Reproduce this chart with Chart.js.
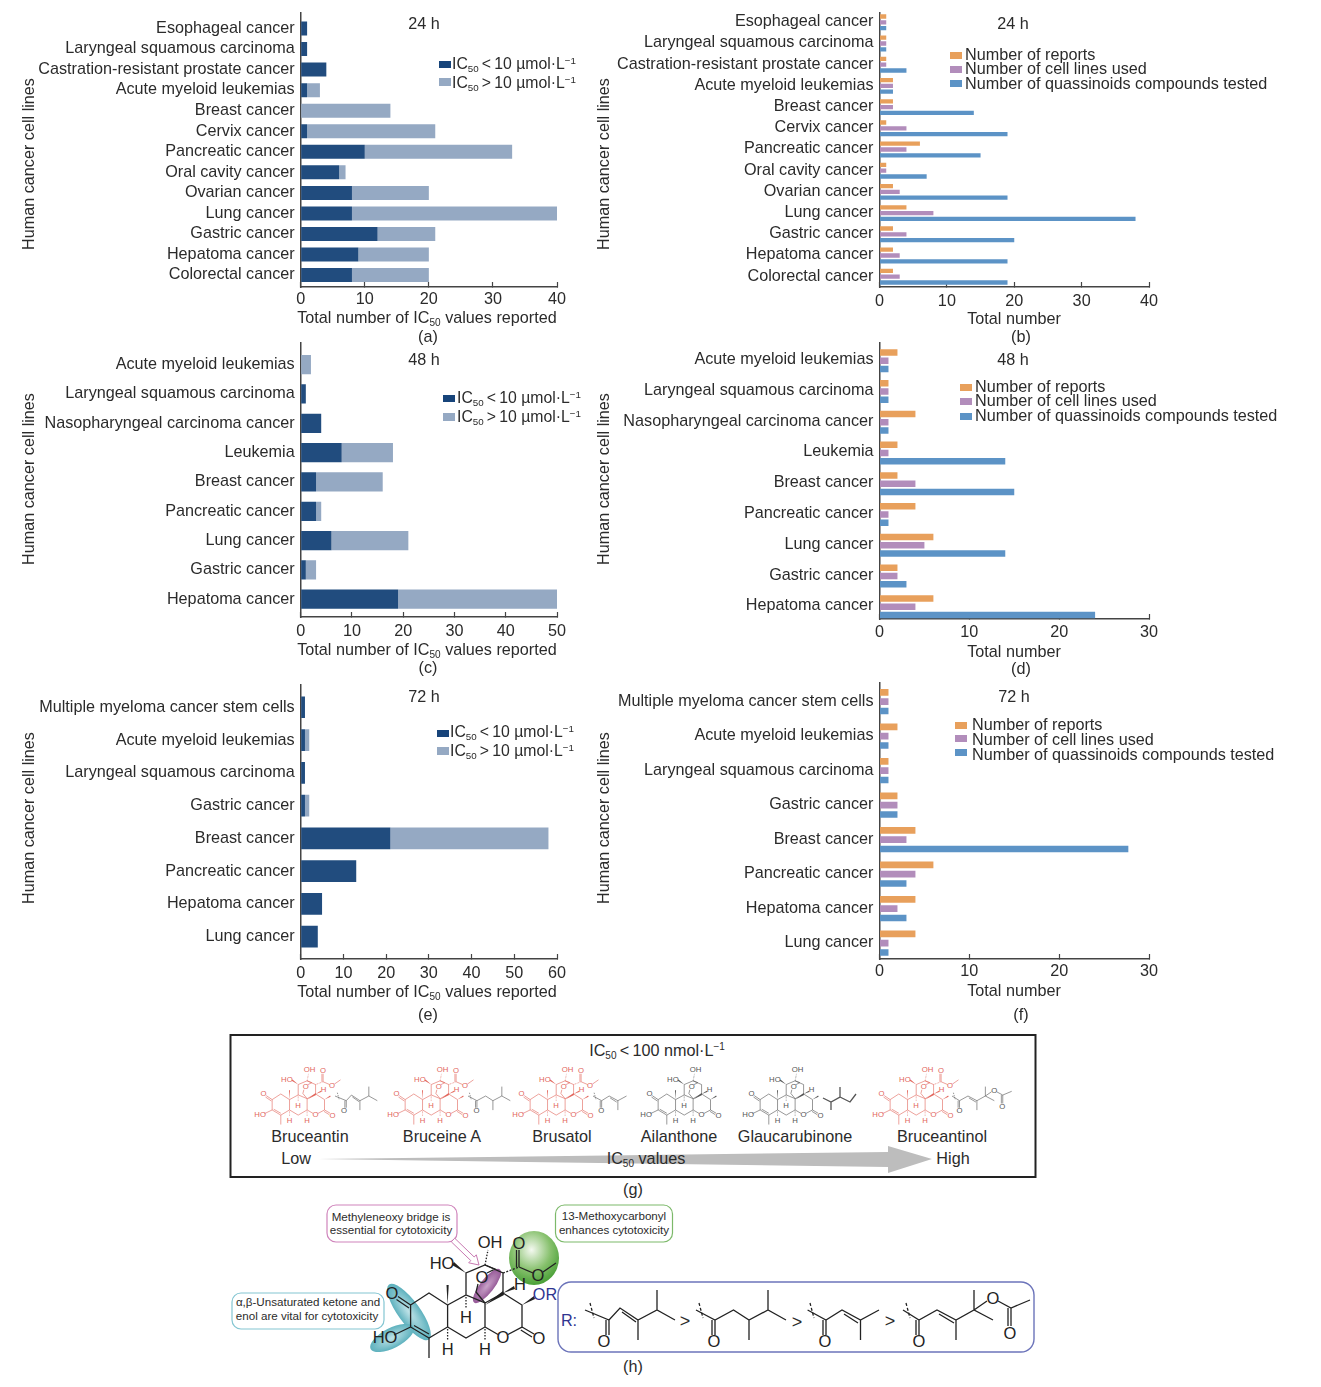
<!DOCTYPE html>
<html><head><meta charset="utf-8">
<script src="https://cdn.jsdelivr.net/npm/chart.js@4"></script>
<style>
html,body{margin:0;padding:0;background:#fff;overflow:hidden}
#page{position:relative;width:1321px;height:1387px;font-family:"Liberation Sans",Arial,sans-serif;color:#2b2b2b}
canvas{position:absolute}
svg{position:absolute;left:0;top:0}
.t{position:absolute;white-space:nowrap;line-height:1;transform:translate(-50%,-50%)}
.l{position:absolute;white-space:nowrap;line-height:1;transform:translateY(-50%)}
.sw{position:absolute}
sub{font-size:.62em;vertical-align:-.3em;line-height:0}
sup{font-size:.62em;vertical-align:.55em;line-height:0}
.m path{fill:none;stroke:currentColor;stroke-width:1.3}
.m polygon{fill:currentColor;stroke:none}
.m text{fill:currentColor;stroke:none;font-family:"Liberation Sans",Arial,sans-serif;font-size:16.5px;text-anchor:middle;dominant-baseline:central}
</style></head><body><div id="page">
<svg width="1321" height="1387" viewBox="0 0 1321 1387">
<defs>
<radialGradient id="gg" cx=".45" cy=".35" r=".7"><stop offset="0" stop-color="#f4f9f0"/><stop offset=".55" stop-color="#86c06c"/><stop offset="1" stop-color="#3f9a2e"/></radialGradient>
<radialGradient id="pg" cx=".5" cy=".5" r=".6"><stop offset="0" stop-color="#c9a3c9"/><stop offset="1" stop-color="#8c4b8e"/></radialGradient>
<radialGradient id="tg" cx=".5" cy=".5" r=".6"><stop offset="0" stop-color="#bfe3e8"/><stop offset="1" stop-color="#4aa7b5"/></radialGradient>
<g id="base" class="m">
<path d="M410.6,1305 L429,1293 L447.6,1305 L447.6,1327 L429,1338 L410.6,1327 Z M414,1325.5 L429,1334 M410.6,1305 L398,1296.5 M409,1308 L396.5,1299.5 M410.6,1327 L394,1335 M429,1338 L429,1358"/>
<polygon points="447.6,1305 446.5,1285 448.7,1285"/>
<path d="M447.6,1305 L466,1295 L485,1303 L485,1327 L466,1338 L447.6,1327 M466,1295 L466,1273 L485,1265 L503,1273 L503,1293 L485,1303 M485,1327 L498,1334.5 M508,1334.5 L522,1327 L522,1305 L503,1293 M522,1327 L534,1334 M520.8,1330 L532,1337"/>
<path d="M466,1297 L466,1309 M447.6,1329 L447.6,1341 M485,1329 L485,1341" stroke-dasharray="1.5 1.5"/>
<path d="M485,1303 L476,1292 L478,1284 M487,1273 L495,1269 L485,1265"/>
<polygon points="485,1305 503,1291 504,1295"/>
<polygon points="522,1305 534,1296 535,1299"/>
<polygon points="503,1293 514,1286 515,1289"/>
<polygon points="466,1273 454,1262 452,1265"/>
<path d="M485,1265 L488,1250" stroke-dasharray="1.5 1.5"/>
<text x="392" y="1293">O</text><text x="385" y="1337">HO</text>
<text x="466" y="1317">H</text><text x="447.6" y="1349">H</text><text x="485" y="1349">H</text>
<text x="503" y="1337">O</text><text x="539" y="1338">O</text><text x="482" y="1277">O</text>
<text x="520" y="1284">H</text><text x="490" y="1242">OH</text><text x="442" y="1263">HO</text>
</g>
<g id="ester" class="m">
<path d="M503,1273 L519,1267" stroke-dasharray="2 1.5"/>
<path d="M519,1267 L519,1250 M516.5,1267 L516.5,1250 M519,1267 L533,1273 M543,1272 L556,1263"/>
<text x="519" y="1243">O</text><text x="538" y="1275">O</text>
</g>
<g id="core"><use href="#base"/><use href="#ester"/></g>
<g id="r1" class="m"><path d="M585,1310 L609,1320 L620,1308 L638,1320 L657,1310 L675,1320 M657,1310 L657,1290 M638,1320 L638,1340 M622,1312 L636,1322 M609,1320 L609,1335 M606,1320 L606,1335"/><path d="M590,1303 L594,1318" stroke-dasharray="3 2"/><text x="604" y="1341">O</text></g>
<g id="r2" class="m"><path d="M696,1310 L715,1320 L733.5,1310 L749,1320 L768,1310 L786,1320 M768,1310 L768,1290 M749,1320 L749,1340 M715,1320 L715,1335 M712,1320 L712,1335"/><path d="M699,1303 L703,1318" stroke-dasharray="3 2"/><text x="714" y="1341">O</text></g>
<g id="r3" class="m"><path d="M807.6,1310 L826,1320 L842,1310 L860.5,1320 L879,1310 M860.5,1320 L860.5,1340 M844,1314 L858,1323 M826,1320 L826,1335 M823,1320 L823,1335"/><path d="M810,1303 L814,1318" stroke-dasharray="3 2"/><text x="825" y="1341">O</text></g>
<g id="r4" class="m"><path d="M903,1310 L919,1320 L937,1310 L956,1320 L974,1310 L993,1320 M974,1310 L974,1290 M974,1310 L987,1301 M998,1301 L1011,1308 L1030,1300 M1011,1308 L1011,1326 M1008,1308 L1008,1326 M956,1320 L956,1340 M939,1314 L954,1323 M919,1320 L919,1335 M916,1320 L916,1335"/><path d="M906,1303 L910,1318" stroke-dasharray="3 2"/><text x="919" y="1341">O</text><text x="993" y="1298">O</text><text x="1010" y="1333">O</text></g>
</defs>

<!-- panel g -->
<rect x="230.5" y="1035" width="805" height="142" fill="none" stroke="#222" stroke-width="2"/>
<polygon points="318,1159 888,1152 888,1146 932,1159 888,1173 888,1167" fill="#bdbdbd"/>
<use href="#core" transform="translate(262,1070) scale(.47) translate(-389,-1242)" style="color:#e2665c"/>
<use href="#r1" transform="translate(335,1096) scale(.47) translate(-585,-1310)" style="color:#555"/>
<use href="#core" transform="translate(395,1070) scale(.47) translate(-389,-1242)" style="color:#e2665c"/>
<use href="#r2" transform="translate(468,1096) scale(.47) translate(-696,-1310)" style="color:#555"/>
<use href="#core" transform="translate(520,1070) scale(.47) translate(-389,-1242)" style="color:#e2665c"/>
<use href="#r3" transform="translate(593,1096) scale(.47) translate(-807.6,-1310)" style="color:#555"/>
<use href="#base" transform="translate(648,1070) scale(.47) translate(-389,-1242)" style="color:#555"/>
<use href="#base" transform="translate(750,1070) scale(.47) translate(-389,-1242)" style="color:#555"/>
<g class="m" style="color:#555"><path d="M823,1098 L831,1102 L840,1097 L840,1087 M831,1102 L831,1110 M840,1097 L850,1102 L856,1094"/></g>
<use href="#core" transform="translate(880,1070) scale(.47) translate(-389,-1242)" style="color:#e2665c"/>
<use href="#r4" transform="translate(952,1096) scale(.47) translate(-903,-1310)" style="color:#555"/>

<!-- panel h -->
<ellipse cx="409" cy="1312" rx="34" ry="11" transform="rotate(54 409 1312)" fill="url(#tg)"/>
<ellipse cx="392" cy="1338" rx="24" ry="10" transform="rotate(-27 392 1338)" fill="url(#tg)"/>
<ellipse cx="534" cy="1258" rx="25" ry="27" fill="url(#gg)"/>
<ellipse cx="487" cy="1286" rx="21" ry="7" transform="rotate(-52 487 1286)" fill="url(#pg)"/>
<use href="#core" style="color:#222"/>
<rect x="327" y="1205" width="130" height="37" rx="9" fill="#fff" stroke="#cf84bb" stroke-width="1.2"/>
<rect x="555.5" y="1205" width="117" height="37" rx="9" fill="#fff" stroke="#7cb96a" stroke-width="1.2"/>
<rect x="232" y="1293" width="152" height="36" rx="9" fill="#fff" stroke="#84c6d2" stroke-width="1.2"/>
<rect x="558" y="1282" width="476" height="70" rx="13" fill="none" stroke="#6c74ba" stroke-width="1.4"/>
<polygon points="451.3,1241.8 470.8,1260.6 468.7,1262.8 479,1265 476.3,1254.8 474.2,1257 454.7,1238.2" fill="#fff" stroke="#c879b2" stroke-width="1"/>
<use href="#r1" style="color:#222"/><use href="#r2" style="color:#222"/><use href="#r3" style="color:#222"/><use href="#r4" style="color:#222"/>
</svg>
<div id="chartLayer"></div>
<div id="textLayer"></div>
</div>
<script>
// ---- categories ----
const cats24a = ["Esophageal cancer","Laryngeal squamous carcinoma","Castration-resistant prostate cancer","Acute myeloid leukemias","Breast cancer","Cervix cancer","Pancreatic cancer","Oral cavity cancer","Ovarian cancer","Lung cancer","Gastric cancer","Hepatoma cancer","Colorectal cancer"];
const cats48 = ["Acute myeloid leukemias","Laryngeal squamous carcinoma","Nasopharyngeal carcinoma cancer","Leukemia","Breast cancer","Pancreatic cancer","Lung cancer","Gastric cancer","Hepatoma cancer"];
const cats72 = ["Multiple myeloma cancer stem cells","Acute myeloid leukemias","Laryngeal squamous carcinoma","Gastric cancer","Breast cancer","Pancreatic cancer","Hepatoma cancer","Lung cancer"];
// ---- panel (a) ----
const a_below = [1,1,4,1,0,1,10,6,8,8,12,9,8];
const a_above = [0,0,0,2,14,20,23,1,12,32,9,11,12];
// ---- panel (b) ----
const b_reports = [1,1,1,2,2,1,6,1,2,4,2,2,2];
const b_lines = [1,1,1,2,2,4,4,1,3,8,4,3,3];
const b_compounds = [1,1,4,2,14,19,15,7,19,38,20,19,19];
// ---- panel (c) ----
const c_below = [0,1,4,8,3,3,6,1,19];
const c_above = [2,0,0,10,13,1,15,2,31];
// ---- panel (d) ----
const d_reports = [2,1,4,2,2,4,6,2,6];
const d_lines = [1,1,1,1,4,1,5,2,4];
const d_compounds = [1,1,1,14,15,1,14,3,24];
// ---- panel (e) ----
const e_below = [1,1,1,1,21,13,5,4];
const e_above = [0,1,0,1,37,0,0,0];
// ---- panel (f) ----
const f_reports = [1,2,1,2,4,6,4,4];
const f_lines = [1,1,1,2,3,4,2,1];
const f_compounds = [1,1,1,2,27.7,3,3,1];
// ---- text ----
const seriesLow = "IC50 < 10 µmol·L−1", seriesHigh = "IC50 > 10 µmol·L−1";
const seriesNames = ["Number of reports","Number of cell lines used","Number of quassinoids compounds tested"];
const compounds = ["Bruceantin","Bruceine A","Brusatol","Ailanthone","Glaucarubinone","Bruceantinol"];

const FS = 16.2;
const DARK="#214c7e", LIGHT="#95a9c3", ORANGE="#e8a05c", PURPLE="#b28dbb", BLUE="#5c93c6";
const FONT='"Liberation Sans", Arial, sans-serif', TXT="#2b2b2b", AX="#444";

function panel(o){
  const PADT=20, PADR=30, AW=o.x0-4, BH=40;
  const cv=document.createElement('canvas');
  const W=AW+(o.x1-o.x0)+PADR, H=PADT+(o.bottom-o.top)+BH;
  cv.width=W; cv.height=H;
  cv.style.left=(o.x0-AW)+'px'; cv.style.top=(o.top-PADT)+'px';
  document.getElementById('chartLayer').appendChild(cv);
  const stacked=o.series.length===2;
  const cp=stacked?1:3*o.gap/o.step, bp=stacked?o.th/o.step:o.th/o.gap;
  new Chart(cv,{type:'bar',data:{labels:o.labels,datasets:o.series.map(s=>({label:s.label,data:s.data,backgroundColor:s.color,borderWidth:0,categoryPercentage:cp,barPercentage:bp}))},
  options:{indexAxis:'y',responsive:false,animation:false,events:[],
    layout:{padding:{top:PADT,right:PADR,left:0,bottom:0}},
    plugins:{legend:{display:false},tooltip:{enabled:false},title:{display:false}},
    scales:{
      x:{type:'linear',min:0,max:o.max,stacked,position:'bottom',
        grid:{display:true,drawOnChartArea:false,drawTicks:true,tickLength:-5,tickColor:AX,tickWidth:1.2},
        border:{display:true,color:AX,width:1.5},
        ticks:{stepSize:10,padding:o.tickPad,color:TXT,font:{family:FONT,size:FS},maxRotation:0},
        afterFit:s=>{s.height=BH}},
      y:{type:'category',stacked,position:'left',
        grid:{display:false,drawTicks:false},
        border:{display:true,color:AX,width:1.5},
        ticks:{padding:o.labelPad,autoSkip:false,color:TXT,font:{family:FONT,size:FS},labelOffset:o.labelOff},
        afterBuildTicks:s=>{s._startValue=-(o.c0-o.top)/o.step; s._valueRange=(o.bottom-o.top)/o.step;},
        afterFit:s=>{s.width=AW}}
    }}});
}
const low={label:seriesLow,color:DARK}, high={label:seriesHigh,color:LIGHT};
function ser2(a,b){return [{...low,data:a},{...high,data:b}]}
function ser3(a,b,c){return [{label:seriesNames[0],color:ORANGE,data:a},{label:seriesNames[1],color:PURPLE,data:b},{label:seriesNames[2],color:BLUE,data:c}]}

panel({labels:cats24a,series:ser2(a_below,a_above),max:40,x0:300.7,x1:557.5,top:13,bottom:287,c0:28.5,step:20.55,th:14,tickPad:8,labelPad:6,labelOff:-0.2});
panel({labels:cats24a,series:ser3(b_reports,b_lines,b_compounds),max:40,x0:879.5,x1:1149,top:13,bottom:287,c0:22.3,step:21.2,gap:5.8,th:4.3,tickPad:10,labelPad:6,labelOff:-0.5});
panel({labels:cats48,series:ser2(c_below,c_above),max:50,x0:300.7,x1:557.5,top:343,bottom:617.7,c0:364.7,step:29.4,th:19.3,tickPad:10,labelPad:6,labelOff:0});
panel({labels:cats48,series:ser3(d_reports,d_lines,d_compounds),max:30,x0:879.5,x1:1149,top:343,bottom:619.3,c0:360.7,step:30.8,gap:8.3,th:6.5,tickPad:9,labelPad:6,labelOff:-1});
panel({labels:cats72,series:ser2(e_below,e_above),max:60,x0:300.7,x1:557.5,top:685,bottom:959.3,c0:707.3,step:32.8,th:21.7,tickPad:10,labelPad:6,labelOff:0});
panel({labels:cats72,series:ser3(f_reports,f_lines,f_compounds),max:30,x0:879.5,x1:1149,top:683,bottom:959,c0:701.7,step:34.5,gap:9.3,th:6.7,tickPad:8,labelPad:6,labelOff:-0.5});

// ---- overlay text ----
const layer=document.getElementById('textLayer');
function put(html,x,y,opt={}){
  const d=document.createElement('div');
  d.className=opt.left?'l':'t';
  d.innerHTML=html; d.style.left=x+'px'; d.style.top=(y-0.6)+'px';
  d.style.fontSize=(opt.size||FS)+'px';
  if(opt.color)d.style.color=opt.color;
  if(opt.rot)d.style.transform='translate(-50%,-50%) rotate(-90deg)';
  layer.appendChild(d);
}
function sw(x,y,w,h,c){const d=document.createElement('div');d.className='sw';d.style.cssText=`left:${x}px;top:${y}px;width:${w}px;height:${h}px;background:${c}`;layer.appendChild(d);}
const lowH='IC<sub>50</sub>&thinsp;&lt;&thinsp;10 µmol·L<sup>−1</sup>', highH='IC<sub>50</sub>&thinsp;&gt;&thinsp;10 µmol·L<sup>−1</sup>';
// y-axis titles
[[28,165],[603,165],[28,480],[603,480],[28,819],[603,819]].forEach(p=>put('Human cancer cell lines',p[0],p[1],{rot:true}));
// hour titles
[['24 h',424,24],['24 h',1013,24],['48 h',424,360],['48 h',1013,360],['72 h',424,697],['72 h',1014,697]].forEach(p=>put(p[0],p[1],p[2]));
// x titles
const icTitle='Total number of IC<sub>50</sub> values reported';
[[427,318],[427,650],[427,992]].forEach(p=>put(icTitle,p[0],p[1]));
[[1014,319],[1014,652],[1014,991]].forEach(p=>put('Total number',p[0],p[1]));
// panel letters
[['(a)',428,337],['(b)',1021,337],['(c)',428,668],['(d)',1021,669],['(e)',428,1015],['(f)',1021,1015],['(g)',633,1190],['(h)',633,1367]].forEach(p=>put(p[0],p[1],p[2]));
// legends of the IC50 panels
[[439,61,78,452,65,84],[443,395,413,457,399,418],[437,730,747,450,733,752]].forEach(l=>{
  sw(l[0],l[1],12,7,'#17447a'); sw(l[0],l[2],12,8,LIGHT);
  put(lowH,l[3],l[4],{left:true,size:15.8}); put(highH,l[3],l[5],{left:true,size:15.8});
});
// legends of the count panels
[[950,52,66,80,965,55,69,84],[960,384,398,413,975,387,401,416],[955,722,735,749,972,725,740,755]].forEach(l=>{
  [ORANGE,PURPLE,BLUE].forEach((c,i)=>{sw(l[0],l[1+i],12,7,c); put(seriesNames[i],l[4],l[5+i],{left:true});});
});
// panel g text
put('IC<sub>50</sub>&thinsp;&lt;&thinsp;100 nmol·L<sup>−1</sup>',657,1051);
[310,442,562,679,795,942].forEach((x,i)=>put(compounds[i],x,1137));
put('Low',296,1159); put('IC<sub>50</sub> values',646,1159); put('High',953,1159);
// panel h text
const CS=11.6;
put('Methyleneoxy bridge is',391,1218,{size:CS}); put('essential for cytotoxicity',391,1231,{size:CS});
put('13-Methoxycarbonyl',614,1217,{size:CS}); put('enhances cytotoxicity',614,1230.5,{size:CS});
put('α,β-Unsaturated ketone and',308,1303,{size:CS}); put('enol are vital for cytotoxicity',307,1317,{size:CS});
put('OR',545,1295,{color:'#2f3590'}); put('R:',569,1321,{color:'#2f3590'});
[[685,1322],[797,1323],[890,1322]].forEach(p=>put('&gt;',p[0],p[1],{size:18}));
</script>
</body></html>
